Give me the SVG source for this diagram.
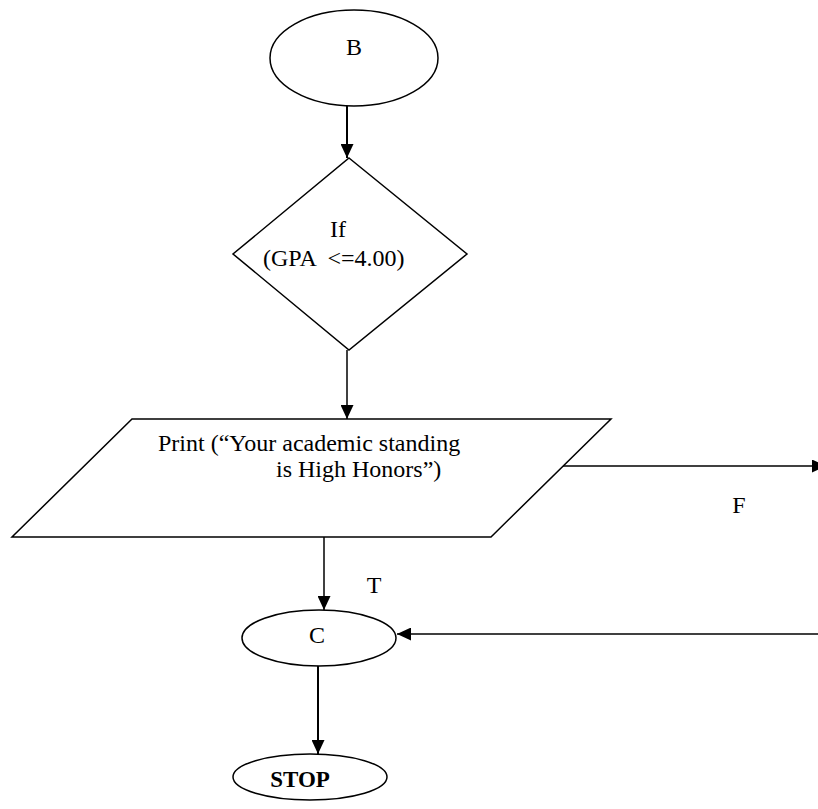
<svg xmlns="http://www.w3.org/2000/svg" width="818" height="809" viewBox="0 0 818 809">
  <style>
    .shape { fill: #fff; stroke: #000; stroke-width: 1.5; }
    .conn { fill: none; stroke: #000; stroke-width: 1.5; }
    .thick { stroke-width: 2; }
    .lbl { font-family: "Liberation Serif", "Times New Roman", serif; font-size: 24px; fill: #000; }
    .mid { text-anchor: middle; }
    .bold { font-weight: bold; }
  </style>
  <defs>
    <marker id="arrow" markerUnits="userSpaceOnUse" markerWidth="15" markerHeight="13" refX="14" refY="6.5" orient="auto">
      <path d="M0,0 L14,6.5 L0,13 Z" fill="#000"/>
    </marker>
  </defs>

  <rect width="818" height="809" fill="#fff"/>

  <!-- connectors -->
  <g id="connectors">
    <line class="conn thick" x1="347" y1="106" x2="347" y2="158" marker-end="url(#arrow)"/>
    <line class="conn" x1="347" y1="350" x2="347" y2="419" marker-end="url(#arrow)"/>
    <line class="conn" x1="563" y1="466" x2="826" y2="466" marker-end="url(#arrow)"/>
    <line class="conn" x1="324" y1="537" x2="324" y2="610" marker-end="url(#arrow)"/>
    <line class="conn" x1="818" y1="634" x2="397" y2="634" marker-end="url(#arrow)"/>
    <line class="conn thick" x1="318" y1="664" x2="318" y2="754" marker-end="url(#arrow)"/>
    <text class="lbl mid" x="739" y="513">F</text>
    <text class="lbl mid" x="374" y="593">T</text>
  </g>

  <!-- connector B -->
  <g id="node-b">
    <ellipse class="shape" cx="354" cy="58" rx="84" ry="48"/>
    <text class="lbl mid" x="354" y="55">B</text>
  </g>

  <!-- GPA decision -->
  <g id="node-decision">
    <polygon class="shape" points="349,158 467,254 349,350 233,254"/>
    <text class="lbl mid" x="338" y="237">If</text>
    <text class="lbl" x="263" y="266" xml:space="preserve">(GPA  &lt;=4.00)</text>
  </g>

  <!-- print output -->
  <g id="node-print">
    <polygon class="shape" points="132,419 611,419 491,537 12,537"/>
    <text class="lbl" x="158" y="451">Print (“Your academic standing</text>
    <text class="lbl" x="276" y="477">is High Honors”)</text>
  </g>

  <!-- connector C -->
  <g id="node-c">
    <ellipse class="shape" cx="319" cy="638" rx="77" ry="28"/>
    <text class="lbl mid" x="317" y="643">C</text>
  </g>

  <!-- terminator -->
  <g id="node-stop">
    <ellipse class="shape" cx="310" cy="777" rx="77" ry="23"/>
    <text class="lbl mid bold" x="300" y="787" style="font-size:23px">STOP</text>
  </g>
</svg>
